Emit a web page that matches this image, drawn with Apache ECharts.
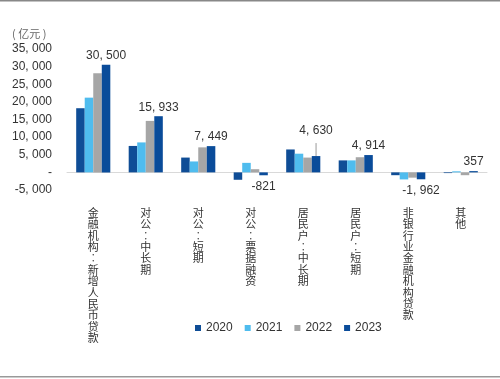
<!DOCTYPE html>
<html><head><meta charset="utf-8">
<script src="https://cdn.jsdelivr.net/npm/echarts@6/dist/echarts.min.js"></script>
<style>html,body{margin:0;padding:0;background:#fff}#c{width:500px;height:379px}</style>
</head><body><div id="c"></div>
<script>
const categories = ['金融机构:新增人民币贷款','对公:中长期','对公:短期','对公:票据融资','居民户:中长期','居民户:短期','非银行业金融机构贷款','其他'];
const years = ['2020','2021','2022','2023'];
const v2020 = [18200, 7500, 4200, -2100, 6500, 3400, -800, -200];
const v2021 = [21200, 8500, 3100, 2700, 5300, 3400, -2000, 300];
const v2022 = [28100, 14600, 7100, 900, 4200, 4300, -1500, -800];
const v2023 = [30500, 15933, 7449, -821, 4630, 4914, -1962, 357];
const yTicks = {min: -5000, max: 35000, interval: 5000};
const colors = ['#0f4d96', '#4fbcee', '#a6a6a6', '#0a4c9a'];

function fmt(v){
  const s = Math.abs(v).toString();
  const p = s.replace(/\B(?=(\d{3})+(?!\d))/g, ', ');
  return (v < 0 ? '-' : '') + p;
}
const chart = echarts.init(document.getElementById('c'), null, {renderer:'canvas'});
const font = 'Liberation Sans, Arial, sans-serif';
const seriesVals = [v2020, v2021, v2022, v2023];
const series = years.map((y, i) => {
  const s = {
    name: y, type: 'bar', barGap: '0%', barCategoryGap: '35%',
    itemStyle: {color: colors[i]},
    data: seriesVals[i].map(v => ({value: v}))
  };
  if (i === 3) {
    s.data = seriesVals[i].map((v, k) => {
      const d = {value: v, label: {show: true, position: v < 0 ? 'bottom' : 'top', distance: v < 0 ? 5 : 3}};
      if (k === 4) { d.label.offset = [0, -16]; d.labelLine = {show: true, lineStyle: {color: '#999', width: 1}}; }
      return d;
    });
    s.label = {show: true, color: '#333', fontSize: 12, fontFamily: font, formatter: p => fmt(p.value)};
    s.labelLine = {show: false};
  }
  return s;
});
chart.setOption({
  animation: false,
  backgroundColor: '#fff',
  grid: {left: 67, right: 13, top: 49, bottom: 189},
  legend: {
    data: years, left: 190, top: 317, itemWidth: 6, itemHeight: 6, itemGap: 12,
    icon: 'rect', textStyle: {fontSize: 12, color: '#333', fontFamily: font}
  },
  graphic: [
    {type: 'text', left: 12, top: 28, style: {text: '( 亿元 )', fontSize: 11, fill: '#666', fontFamily: 'Noto Sans CJK SC'}},
    {type: 'rect', shape: {x: 0, y: 0, width: 500, height: 1.5}, style: {fill: '#888'}},
    {type: 'rect', shape: {x: 0, y: 376, width: 500, height: 1.5}, style: {fill: '#999'}}
  ],
  xAxis: {
    type: 'category', data: categories,
    axisLine: {show: true, onZero: true, lineStyle: {color: '#d9d9d9', width: 1}},
    axisTick: {show: false},
    axisLabel: {
      interval: 0, margin: 17, fontSize: 11, lineHeight: 11.4, color: '#333',
      fontFamily: 'Noto Sans CJK SC', verticalAlign: 'top',
      formatter: v => v.replace(/:/g, '︰').split('').join('\n')
    }
  },
  yAxis: {
    type: 'value', min: yTicks.min, max: yTicks.max, interval: yTicks.interval,
    axisLine: {show: false}, axisTick: {show: false}, splitLine: {show: false},
    axisLabel: {margin: 15, fontSize: 12, color: '#333', fontFamily: font,
      formatter: v => v === 0 ? '-' : fmt(v)}
  },
  series: series
});
</script></body></html>
